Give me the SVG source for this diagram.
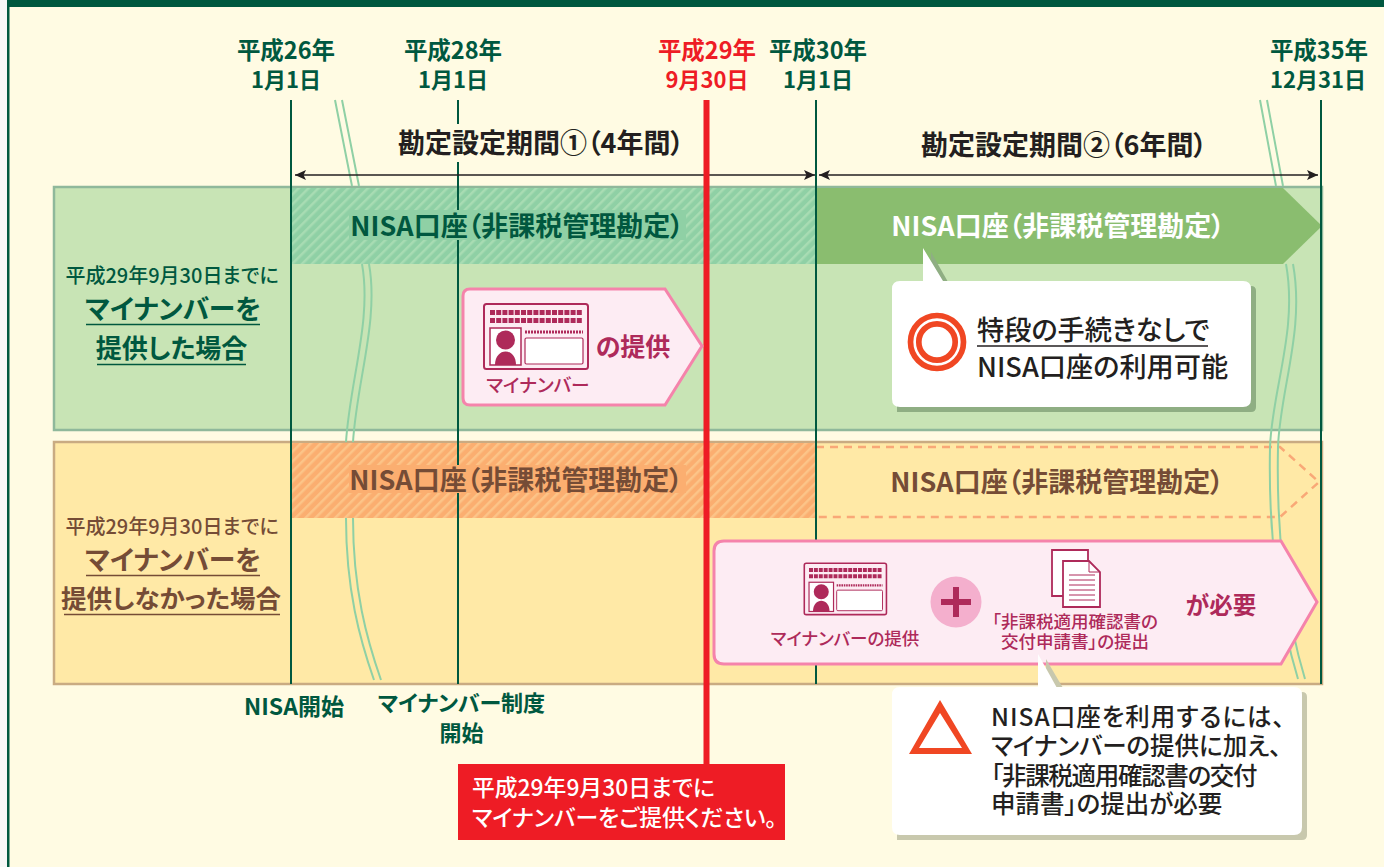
<svg xmlns="http://www.w3.org/2000/svg" width="1384" height="867" viewBox="0 0 1384 867">
<defs>
<style>
text{font-family:"Noto Sans CJK JP","Noto Sans",sans-serif;font-weight:700;text-anchor:middle;font-feature-settings:"palt"}
.g{fill:#00583f}.k{fill:#231f20}.b{fill:#754c36}.m{fill:#ae2a5a}.n{font-weight:500}.s{text-anchor:start}
.v{stroke:#00583f;stroke-width:2;fill:none}
.w{stroke:#8fd0a5;stroke-width:2;fill:none}
</style>
<pattern id="hg" width="7" height="7" patternUnits="userSpaceOnUse" patternTransform="rotate(45)"><rect width="7" height="7" fill="#8fd0a5"/><rect width="2.500" height="7" fill="#a8dcb3"/></pattern>
<pattern id="ho" width="7" height="7" patternUnits="userSpaceOnUse" patternTransform="rotate(45)"><rect width="7" height="7" fill="#fbae70"/><rect width="2.500" height="7" fill="#fcc488"/></pattern>
<marker id="ar" markerWidth="12" markerHeight="10" refX="11" refY="5" orient="auto-start-reverse" markerUnits="userSpaceOnUse"><path d="M0 0L11 5L0 10L2.500 5Z" fill="#231f20"/></marker>
<g id="card">
<rect x="1" y="1" width="104" height="65" rx="2.500" fill="#fdecf3" stroke="#ae2a5a" stroke-width="2"/>
<path d="M7 9.500H100M7 17.500H100" stroke="#ae2a5a" stroke-width="5" stroke-dasharray="5 1.200"/>
<rect x="7" y="25" width="31" height="37" fill="#fff" stroke="#ae2a5a" stroke-width="1.500"/>
<circle cx="22.500" cy="37" r="9.500" fill="#ae2a5a"/><path d="M12 62C12 44 33 44 33 62Z" fill="#ae2a5a"/>
<path d="M42 29H100" stroke="#ae2a5a" stroke-width="3" stroke-dasharray="2 1"/>
<rect x="42" y="35" width="58" height="26" rx="1.500" fill="#fff" stroke="#ae2a5a" stroke-width="1.200"/>
</g>
</defs>
<rect width="1384" height="867" fill="#fffbe3"/>
<rect width="7" height="867" fill="#f7f7f7"/>
<rect x="7" width="2.500" height="867" fill="#00583f"/>
<rect x="7" width="1377" height="7" fill="#00583f"/>

<g id="band-green">
<rect x="54" y="187" width="1268" height="243" fill="#c8e4b5" stroke="#8fb89b" stroke-width="2.500"/>
<rect x="292" y="188" width="524" height="76" fill="url(#hg)"/>
<path d="M816 188H1283L1322 226L1283 264H816Z" fill="#8abd6f"/>
</g>
<g id="band-orange">
<rect x="54" y="442" width="1268" height="242" fill="#ffe9a6" stroke="#c9ab82" stroke-width="2.500"/>
<rect x="292" y="443" width="524" height="75" fill="url(#ho)"/>
<path d="M816 447H1280L1319 482L1280 517H816" fill="none" stroke="#f9a877" stroke-width="2.500" stroke-dasharray="8 6"/>
</g>

<g id="connectors">
<path class="w" d="M335 100L352 186M342 100L359 186M362 264C372 320 350 380 346 442M369 264C379 320 357 380 353 442M346 518C346 590 360 640 374 680M353 518C353 590 367 640 381 680"/>
<path class="w" d="M1260 100L1276 186M1267 100L1283 186M1286 264C1298 330 1272 390 1270 447M1293 264C1305 330 1280 390 1278 447M1270 447C1268 540 1280 620 1298 679M1278 447C1276 540 1287 620 1305 679"/>
<path class="v" d="M291 100V684"/>
<path class="v" d="M458 100V124M458 162V684"/>
<path class="v" d="M816 100V684"/>
<path class="v" d="M1321 100V684"/>
<path d="M295 175H815" stroke="#231f20" stroke-width="1.300" marker-start="url(#ar)" marker-end="url(#ar)"/>
<path d="M819 175H1318" stroke="#231f20" stroke-width="1.300" marker-start="url(#ar)" marker-end="url(#ar)"/>
<path d="M706.500 100V766" stroke="#ee1c25" stroke-width="6"/>
</g>

<g id="dates" font-size="23.500">
<text class="g" x="286" y="59">平成26年</text><text class="g" x="286" y="88" font-size="22">1月1日</text>
<text class="g" x="453" y="59">平成28年</text><text class="g" x="453" y="88" font-size="22">1月1日</text>
<text x="707" y="59" fill="#ee1c25">平成29年</text><text x="707" y="88" fill="#ee1c25" font-size="22">9月30日</text>
<text class="g" x="818" y="59">平成30年</text><text class="g" x="818" y="88" font-size="22">1月1日</text>
<text class="g" x="1319" y="59">平成35年</text><text class="g" x="1318" y="88" font-size="22">12月31日</text>
</g>
<g id="period-1"><text class="k" x="541" y="153" font-size="27">勘定設定期間①（4年間）</text></g>
<g id="period-2"><text class="k" x="1064" y="155" font-size="27">勘定設定期間②（6年間）</text></g>

<g id="nisa-1"><rect x="349" y="210" width="337" height="30" fill="#8fd0a5"/><text class="g" x="517" y="236" font-size="27">NISA口座（非課税管理勘定）</text></g>
<g id="nisa-2"><text x="1058" y="236" font-size="27" fill="#fff">NISA口座（非課税管理勘定）</text></g>
<g id="nisa-3"><rect x="349" y="465" width="337" height="28" fill="#fbae70"/><text class="b" x="516" y="490" font-size="27">NISA口座（非課税管理勘定）</text></g>
<g id="nisa-4"><text class="b" x="1057" y="492" font-size="27">NISA口座（非課税管理勘定）</text></g>

<g id="label-green">
<text class="g n" x="172" y="283" font-size="20">平成29年9月30日までに</text>
<text class="g" x="173" y="319" font-size="26.800">マイナンバーを</text>
<path d="M86 324.500H260" stroke="#00583f" stroke-width="1.500"/>
<text class="g" x="171.500" y="358" font-size="26">提供した場合</text>
<path d="M97 364.500H246" stroke="#00583f" stroke-width="1.500"/>
</g>
<g id="label-orange">
<text class="b n" x="172" y="534" font-size="20">平成29年9月30日までに</text>
<text class="b" x="173" y="570" font-size="26.800">マイナンバーを</text>
<path d="M86 575.500H260" stroke="#754c36" stroke-width="1.500"/>
<text class="b" x="171" y="608" font-size="25.500">提供しなかった場合</text>
<path d="M64 614.500H280" stroke="#754c36" stroke-width="1.500"/>
</g>

<g id="mynumber-arrow">
<path d="M470 289H665L702 346L665 405H470Q463 405 463 398V296Q463 289 470 289Z" fill="#fdecf3" stroke="#f583ab" stroke-width="3"/>
<use href="#card" x="483" y="303"/>
<text class="m n" x="538" y="392" font-size="18.700">マイナンバー</text>
<text class="m" x="633" y="356" font-size="25">の提供</text>
</g>

<g id="required-arrow">
<path d="M724 541H1281L1317 602L1281 664H724Q714 664 714 654V551Q714 541 724 541Z" fill="#fdecf3" stroke="#f583ab" stroke-width="3"/>
<use href="#card" transform="translate(803.500 562.500) scale(.79)"/>
<text class="m n" x="845" y="645" font-size="17.500">マイナンバーの提供</text>
<circle cx="956" cy="602" r="25.500" fill="#f4afcd"/>
<path d="M941 602H971M956 587V617" stroke="#ae2a5a" stroke-width="6"/>
<path d="M1052 550H1088V596H1052Z" fill="#fff" stroke="#ae2a5a" stroke-width="1.800"/>
<path d="M1063 561H1089L1100 572V607H1063Z" fill="#fff" stroke="#ae2a5a" stroke-width="1.800"/>
<path d="M1089 561V572H1100M1069 575H1095M1069 580H1095M1069 585H1095M1069 590H1095M1069 595H1095M1069 600H1095" fill="none" stroke="#ae2a5a" stroke-width="1"/>
<text class="m n" x="1075" y="628" font-size="17.500">「非課税適用確認書の</text>
<text class="m n" x="1075" y="648" font-size="17.500">交付申請書」の提出</text>
<text class="m" x="1221" y="614" font-size="23.500">が必要</text>
</g>

<g id="callout-ok">
<path d="M897 286H1251Q1256 286 1256 291V407Q1256 412 1251 412H897Z" fill="#8fae83"/>
<path d="M931 252L948 282H931Z" fill="#8fae83"/>
<path d="M923 248L943 281H1243Q1251 281 1251 289V399Q1251 407 1243 407H900Q892 407 892 399V289Q892 281 900 281H923Z" fill="#fff"/>
<circle cx="937" cy="342" r="26.500" fill="none" stroke="#f04723" stroke-width="5.700"/>
<circle cx="937" cy="342" r="18.200" fill="none" stroke="#f04723" stroke-width="5.700"/>
<text class="k n s" x="977" y="340" font-size="27.200">特段の手続きなしで</text>
<path d="M977 346H1208" stroke="#231f20" stroke-width="1.300"/>
<text class="k n s" x="977" y="377" font-size="27.200">NISA口座の利用可能</text>
</g>

<g id="callout-warn">
<path d="M897 692H1302Q1307 692 1307 697V835Q1307 840 1302 840H897Z" fill="#c8c8ad"/>
<path d="M1046 659L1063 688H1046Z" fill="#c8c8ad"/>
<path d="M1038 654L1057 688H1038Z" fill="#fff"/>
<path d="M900 687H1294Q1302 687 1302 695V827Q1302 835 1294 835H900Q892 835 892 827V695Q892 687 900 687Z" fill="#fff"/>
<path d="M940 700L972 754H909ZM940 713L919 748H962Z" fill="#f04723" fill-rule="evenodd"/>
<text class="k n s" x="991" y="726" font-size="24.500" letter-spacing="1">NISA口座を利用するには、</text>
<text class="k n s" x="991" y="755" font-size="24.500">マイナンバーの提供に加え、</text>
<text class="k n s" x="991" y="785" font-size="24.500" letter-spacing="-1.300">「非課税適用確認書の交付</text>
<text class="k n s" x="991" y="813" font-size="24.500">申請書」の提出が必要</text>
</g>

<g id="milestones">
<text class="g" x="294" y="715" font-size="23">NISA開始</text>
<text class="g" x="461.500" y="711" font-size="22">マイナンバー制度</text>
<text class="g" x="461.500" y="741" font-size="22">開始</text>
</g>
<g id="deadline">
<rect x="458" y="764" width="327" height="76" fill="#ee1c25"/>
<text x="472" y="796" font-size="22.800" fill="#fff" class="n s">平成29年9月30日までに</text>
<text x="472" y="826" font-size="22.800" fill="#fff" class="n s">マイナンバーをご提供ください。</text>
</g>
</svg>
